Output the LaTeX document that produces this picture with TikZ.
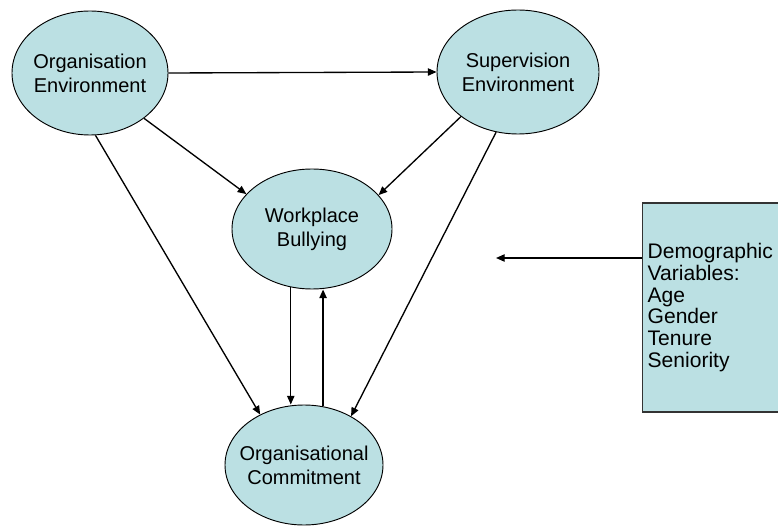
\documentclass[tikz,border=0pt]{standalone}
\usepackage{fontspec}
\setmainfont{Liberation Sans}
\usetikzlibrary{shapes.geometric,arrows.meta}
\definecolor{bubble}{RGB}{187,224,227}
\tikzstyle{factor}=[ellipse,draw=black,fill=bubble,line width=0.7pt,inner sep=0pt]
\tikzstyle{factortext}=[align=center,font=\fontsize{15}{18}\selectfont]
\tikzstyle{varbox}=[rectangle,anchor=west,draw=black!80,fill=bubble,line width=1pt,inner xsep=3.75pt,text width=105pt,minimum height=156.75pt,align=left,font=\fontsize{15.8}{16.3}\selectfont]
\tikzstyle{line}=[draw,line width=1pt,-{Triangle[length=6.5pt,width=5.5pt]}]

\begin{document}
\begin{tikzpicture}[x=0.75pt,y=-0.75pt]
  \clip (0,0) rectangle (778,527);
  % factors
  \node[factor,minimum width=117pt,minimum height=93pt,label={[factortext]center:Organisation\\Environment}] (OE) at (90,73) {};
  \node[factor,minimum width=121.5pt,minimum height=93pt,label={[factortext]center:Supervision\\Environment}] (SE) at (518,72) {};
  \node[factor,minimum width=120pt,minimum height=90pt,label={[factortext]center:Workplace\\Bullying}] (WB) at (312,229) {};
  \node[factor,minimum width=118.5pt,minimum height=90pt,label={[factortext]center:Organisational\\Commitment}] (OC) at (304,465) {};
  % demographics
  \node[varbox] (DV) at (642,307.5) {Demographic\\Variables:\\Age\\Gender\\Tenure\\Seniority};
  \coordinate (DVend) at (496,258);
  % arrows
  \path[line] (OE.east) -- (SE.west);
  \path[line] (OE.-40) -- (WB.152);
  \path[line] (OE.-85) -- (OC.131);
  \path[line] (SE.218) -- (WB.27);
  \path[line] (SE.250) -- (OC.46);
  \path[line] (WB.-110) -- (WB.-110 |- OC.north);
  \path[line] (OC.72) -- (OC.72 |- WB.south);
  \path[line] (DV.west |- DVend) -- (DVend);
\end{tikzpicture}
\end{document}
